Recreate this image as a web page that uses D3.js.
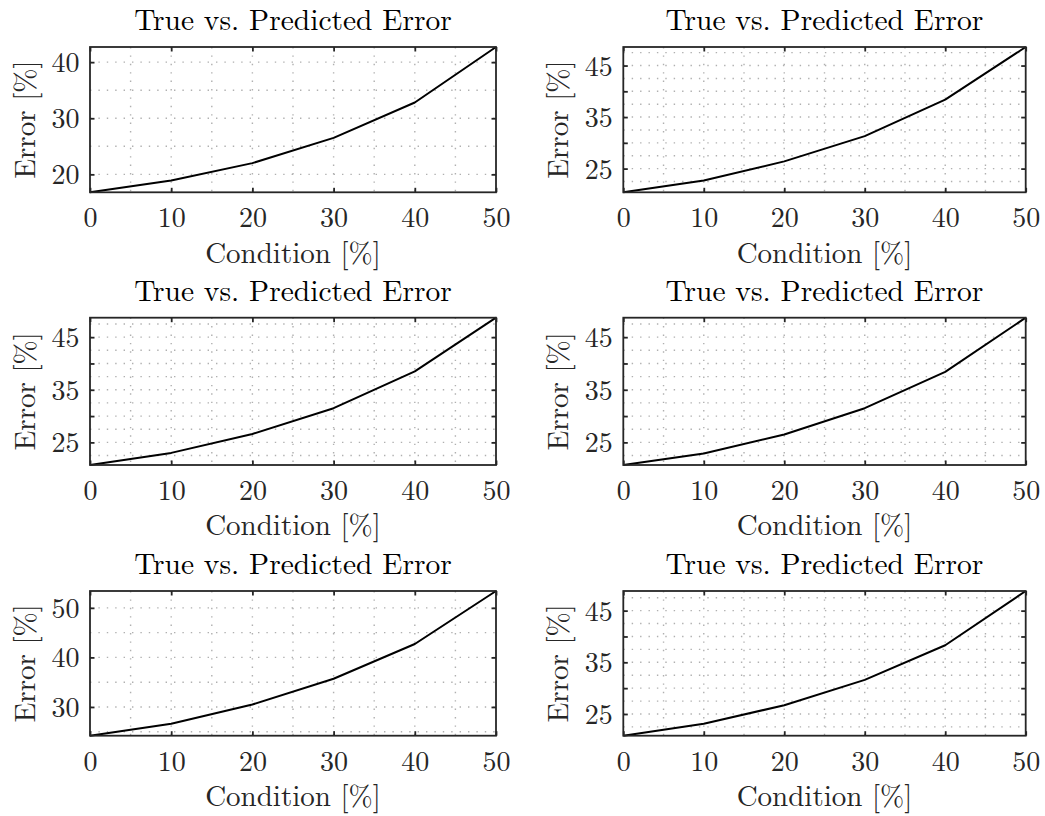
<!DOCTYPE html>
<html>
<head>
<meta charset="utf-8">
<script src="https://cdn.jsdelivr.net/npm/d3@7"></script>
<style>
  html, body { margin: 0; padding: 0; background: #fff; }
  svg { display: block; }
  text { font-family: "Latin Modern Roman", "CMU Serif", "Liberation Serif", "DejaVu Serif", serif; fill: #262626; }
</style>
</head>
<body>
<svg id="chart" width="1045" height="816"></svg>
<script>
// ---- data ----
const condition = [0, 10, 20, 30, 40, 50];
const error1 = [16.8, 18.9, 22.0, 26.5, 32.8, 42.7];
const error2 = [20.4, 22.7, 26.4, 31.3, 38.4, 48.6];
const error3 = [20.7, 23.0, 26.6, 31.5, 38.5, 48.7];
const error4 = [20.7, 22.9, 26.5, 31.5, 38.4, 48.7];
const error5 = [24.2, 26.6, 30.5, 35.7, 42.7, 53.4];
const error6 = [20.8, 23.1, 26.7, 31.6, 38.3, 48.8];

const xTicks = [0, 10, 20, 30, 40, 50];
const xGrid = [5, 10, 15, 20, 25, 30, 35, 40, 45];

const yTicksA = [20, 30, 40];
const yLabelsA = [20, 30, 40];
const yGridA = [20, 25, 30, 35, 40];

const yTicksB = [25, 30, 35, 40, 45];
const yLabelsB = [25, 35, 45];
const yGridB = [22.5, 25, 27.5, 30, 32.5, 35, 37.5, 40, 42.5, 45, 47.5];

const yTicksC = [30, 40, 50];
const yLabelsC = [30, 40, 50];
const yGridC = [25, 30, 35, 40, 45, 50];

const titleText = "True vs. Predicted Error";
const xLabelText = "Condition [%]";
const yLabelText = "Error [%]";

// ---- layout ----
const colX = [90, 623.3];
const colW = [406, 402.4];
const rowY = [47, 317.7, 591];
const rowH = [145.3, 147.3, 144.7];

const panels = [
  { col: 0, row: 0, data: error1, ticks: yTicksA, labels: yLabelsA, grid: yGridA },
  { col: 1, row: 0, data: error2, ticks: yTicksB, labels: yLabelsB, grid: yGridB },
  { col: 0, row: 1, data: error3, ticks: yTicksB, labels: yLabelsB, grid: yGridB },
  { col: 1, row: 1, data: error4, ticks: yTicksB, labels: yLabelsB, grid: yGridB },
  { col: 0, row: 2, data: error5, ticks: yTicksC, labels: yLabelsC, grid: yGridC },
  { col: 1, row: 2, data: error6, ticks: yTicksB, labels: yLabelsB, grid: yGridB }
];

const svg = d3.select("#chart");
const axisColor = "#262626";
const gridColor = "#b0b0b0";
const tickLen = 4.5;

panels.forEach(p => {
  const x0 = colX[p.col], y0 = rowY[p.row], w = colW[p.col], h = rowH[p.row];
  const g = svg.append("g").attr("transform", `translate(${x0},${y0})`);

  const x = d3.scaleLinear().domain(d3.extent(condition)).range([0, w]);
  const y = d3.scaleLinear().domain(d3.extent(p.data)).range([h, 0]);

  // grid
  const grid = g.append("g");
  grid.selectAll("line.gx").data(xGrid).join("line")
    .attr("x1", d => x(d)).attr("x2", d => x(d))
    .attr("y1", 0).attr("y2", h)
    .attr("stroke", gridColor).attr("stroke-width", 1.4)
    .attr("stroke-dasharray", "1.4,7");
  grid.selectAll("line.gy").data(p.grid).join("line")
    .attr("x1", 0).attr("x2", w)
    .attr("y1", d => y(d)).attr("y2", d => y(d))
    .attr("stroke", gridColor).attr("stroke-width", 1.4)
    .attr("stroke-dasharray", "1.4,7");

  // data line
  const line = d3.line().x((d, i) => x(condition[i])).y(d => y(d));
  g.append("path").datum(p.data)
    .attr("d", line)
    .attr("fill", "none")
    .attr("stroke", "#000")
    .attr("stroke-width", 2)
    .attr("stroke-linejoin", "round");

  // axes with inward ticks on all sides
  const fmt = d => (p.labels.includes(d) ? d : "");
  const bottom = g.append("g").attr("transform", `translate(0,${h})`)
    .call(d3.axisBottom(x).tickValues(xTicks).tickSize(-tickLen).tickPadding(tickLen + 6).tickFormat(d3.format("d")));
  const top = g.append("g")
    .call(d3.axisTop(x).tickValues(xTicks).tickSize(-tickLen).tickFormat(""));
  const left = g.append("g")
    .call(d3.axisLeft(y).tickValues(p.ticks).tickSize(-tickLen).tickPadding(tickLen + 10).tickFormat(fmt));
  const right = g.append("g").attr("transform", `translate(${w},0)`)
    .call(d3.axisRight(y).tickValues(p.ticks).tickSize(-tickLen).tickFormat(""));

  [bottom, top, left, right].forEach(a => {
    a.select(".domain").remove();
    a.selectAll(".tick line").attr("stroke", axisColor).attr("stroke-width", 1.8);
    a.selectAll(".tick text").attr("fill", axisColor).style("font-size", "28px")
      .style("font-family", '"Latin Modern Roman", "CMU Serif", "Liberation Serif", serif');
  });
  bottom.selectAll(".tick text").attr("dy", null).attr("y", 35).attr("dominant-baseline", "auto");
  left.selectAll(".tick text").attr("x", -10.5).attr("dy", "0.34em");

  // box
  g.append("rect").attr("x", 0).attr("y", 0).attr("width", w).attr("height", h)
    .attr("fill", "none").attr("stroke", axisColor).attr("stroke-width", 1.8);

  // title
  g.append("text").attr("x", w / 2).attr("y", -17)
    .attr("text-anchor", "middle").style("font-size", "29.5px").style("fill", "#000")
    .text(titleText);
  // x label
  g.append("text").attr("x", w / 2).attr("y", h + 70.5)
    .attr("text-anchor", "middle").style("font-size", "29px")
    .text(xLabelText);
  // y label
  g.append("text")
    .attr("transform", `translate(-55,${h / 2}) rotate(-90)`)
    .attr("text-anchor", "middle").style("font-size", "29px")
    .text(yLabelText);
});
</script>
</body>
</html>
